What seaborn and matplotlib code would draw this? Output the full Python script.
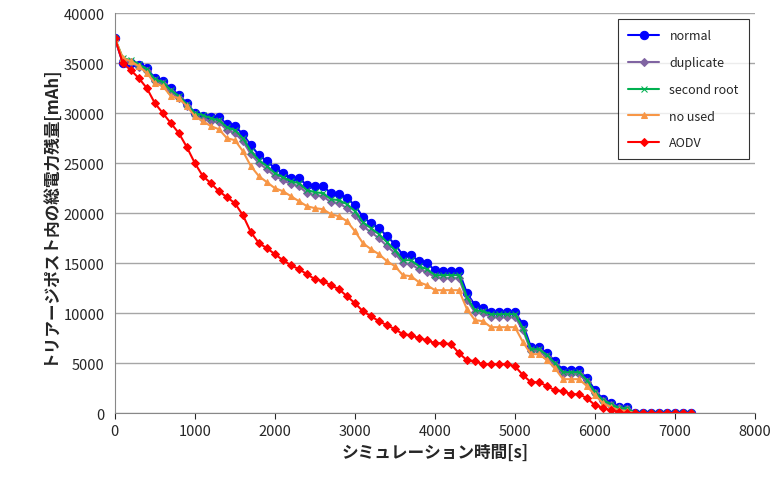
import numpy as np
import pandas as pd
import matplotlib
matplotlib.use("Agg")
import matplotlib.pyplot as plt
import seaborn as sns

time_s = list(range(0, 7300, 100))

normal = [37500, 35000, 35000, 34800, 34500, 33500, 33200, 32500, 31800, 31000,
          30000, 29700, 29600, 29600, 28900, 28700, 27900, 26800, 25800, 25200,
          24500, 24000, 23500, 23500, 22800, 22700, 22700, 22000, 21900, 21500,
          20800, 19600, 19000, 18500, 17700, 16900, 15800, 15800, 15200, 15000,
          14300, 14200, 14200, 14200, 12000, 10800, 10500, 10100, 10100, 10100,
          10100, 8900, 6600, 6600, 6000, 5200, 4300, 4300, 4300, 3500,
          2300, 1400, 1000, 600, 600, 0, 0, 0, 0, 0, 0, 0, 0]
duplicate = [37500, 35300, 35100, 34600, 34200, 33200, 32900, 32100, 31500, 30700,
             29800, 29400, 29200, 29100, 28300, 28000, 27200, 25900, 25000, 24400,
             23700, 23300, 22900, 22700, 22000, 21800, 21700, 21100, 21000, 20500,
             19800, 18700, 18100, 17500, 16700, 16000, 15000, 14900, 14400, 14100,
             13600, 13500, 13500, 13500, 11300, 10100, 10000, 9600, 9600, 9600,
             9600, 8300, 6200, 6200, 5600, 4800, 3900, 3900, 3900, 3100,
             2000, 1200, 800, 500, 400, 0, 0, 0, 0, 0, 0, 0, 0]
second_root = [37500, 35500, 35300, 34900, 34400, 33400, 33100, 32300, 31700, 30900,
               30000, 29800, 29500, 29300, 28600, 28300, 27500, 26200, 25300, 24700,
               24000, 23600, 23200, 23000, 22300, 22100, 22000, 21400, 21300, 20900,
               20200, 19100, 18500, 17900, 17100, 16300, 15300, 15300, 14700, 14400,
               13800, 13800, 13800, 13800, 11600, 10300, 10200, 9900, 9900, 9900,
               9900, 8500, 6400, 6400, 5800, 5000, 4100, 4100, 4100, 3300,
               2100, 1300, 900, 500, 500, 0, 0, 0, 0, 0, 0, 0, 0]
no_used = [37500, 35500, 35200, 34700, 34000, 33000, 32700, 31700, 31500, 30700,
           29700, 29200, 28700, 28400, 27500, 27300, 26200, 24700, 23700, 23100,
           22500, 22200, 21700, 21200, 20700, 20500, 20400, 19900, 19700, 19200,
           18200, 17000, 16400, 15900, 15200, 14700, 13800, 13700, 13100, 12800,
           12300, 12300, 12300, 12300, 10400, 9300, 9200, 8600, 8600, 8600,
           8600, 7100, 5900, 5900, 5300, 4500, 3400, 3400, 3400, 2700,
           1800, 1000, 600, 300, 200, 0, 0, 0, 0, 0, 0, 0, 0]
aodv = [37500, 35000, 34300, 33500, 32500, 31000, 30000, 29000, 28000, 26600,
        25000, 23700, 23000, 22200, 21600, 21000, 19800, 18100, 17000, 16500,
        15900, 15300, 14800, 14400, 13900, 13400, 13200, 12800, 12400, 11700,
        11000, 10200, 9700, 9200, 8800, 8400, 7900, 7800, 7500, 7300,
        7000, 7000, 6900, 6000, 5300, 5200, 4900, 4900, 4900, 4900,
        4700, 3800, 3100, 3100, 2700, 2300, 2200, 1900, 1900, 1500,
        800, 500, 300, 100, 0, 0, 0, 0, 0, 0, 0, 0, 0]

series = {"normal": normal, "duplicate": duplicate, "second root": second_root,
          "no used": no_used, "AODV": aodv}
styles = {"normal": ("#0000FF", "o", 6), "duplicate": ("#8064A2", "D", 4),
          "second root": ("#00B050", "x", 4), "no used": ("#F79646", "^", 5),
          "AODV": ("#FF0000", "D", 4)}

sns.set_style("white")
plt.rcParams['font.family'] = ['Noto Sans CJK JP', 'DejaVu Sans']

fig = plt.figure(figsize=(7.76, 4.89), dpi=100)
ax = fig.add_axes([0.148, 0.153, 0.825, 0.818])

for name, vals in series.items():
    c, m, s = styles[name]
    df = pd.DataFrame({"t": time_s, "v": vals})
    sns.lineplot(data=df, x="t", y="v", ax=ax, color=c, marker=m, markersize=s,
                 markeredgecolor=c, linewidth=1.5, label=name)

ax.set_xlim(0, 8000)
ax.set_ylim(0, 40000)
ax.set_xticks(range(0, 9000, 1000))
ax.set_yticks(range(0, 45000, 5000))
ax.yaxis.grid(True, color="#A6A6A6", linewidth=1)
ax.tick_params(labelsize=10.5, length=4, direction="out", bottom=True)
for sp in ["top", "right"]:
    ax.spines[sp].set_visible(False)
for sp in ["left", "bottom"]:
    ax.spines[sp].set_color("#888888")
ax.set_xlabel("シミュレーション時間[s]", fontsize=12, fontweight="bold")
ax.set_ylabel("トリアージポスト内の総電力残量[mAh]", fontsize=12, fontweight="bold")
leg = ax.legend(loc="upper right", fontsize=9, frameon=True, fancybox=False,
                edgecolor="black", borderpad=0.8, labelspacing=1.1, handlelength=2.5)
leg.get_frame().set_linewidth(0.8)

fig.savefig("out.png", dpi=100)
